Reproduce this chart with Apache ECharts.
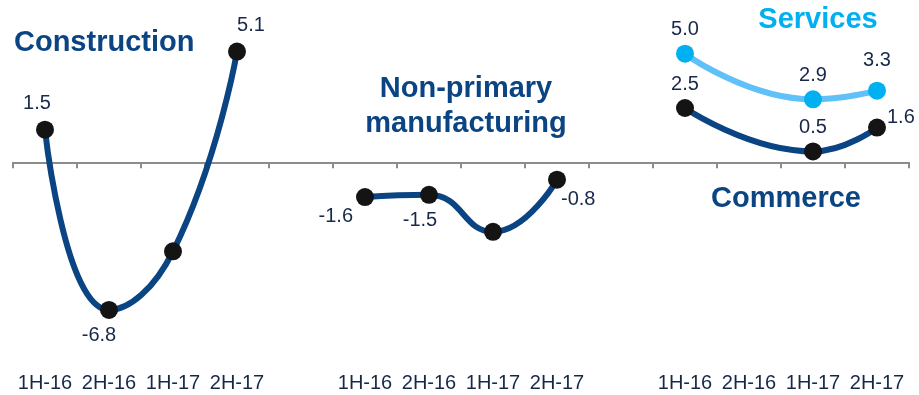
<!DOCTYPE html>
<html>
<head>
<meta charset="utf-8">
<script src="https://cdn.jsdelivr.net/npm/echarts@6/dist/echarts.min.js"></script>
<style>
  html, body { margin: 0; padding: 0; background: #ffffff; }
  #chart { width: 919px; height: 395px; }
</style>
</head>
<body>
<div id="chart"></div>
<script>
// Half-year periods, repeated for each of the three sector panels (one empty slot between panels)
const periods = ['1H-16', '2H-16', '1H-17', '2H-17'];
const tickLabels = [...periods, '', ...periods, '', ...periods];

// Growth values (%), null where a sector has no point
const construction = [1.5, -6.8, -4.1, 5.1, null, null, null, null, null, null, null, null, null, null];
const nonPrimary = [null, null, null, null, null, -1.6, -1.5, -3.2, -0.8, null, null, null, null, null];
const commerce = [null, null, null, null, null, null, null, null, null, null, 2.5, null, 0.5, 1.6];
const services = [null, null, null, null, null, null, null, null, null, null, 5.0, null, 2.9, 3.3];

// Points whose value is not printed
const unlabeled = { construction: [2], nonPrimary: [7] };

const NAVY = '#0a4483';
const LIGHT = '#5fc1f7';
const SKY = '#00b0f0';
const TEXT = '#17284a';
const FONT = '"Liberation Sans", Arial, sans-serif';

const idx = tickLabels.map((_, i) => String(i));

function pointData(values, labelCfg, hidden) {
  return values.map((v, i) => {
    if (v === null) return null;
    const cfg = labelCfg[i] || {};
    return {
      value: v,
      label: Object.assign({ show: !(hidden || []).includes(i) }, cfg)
    };
  });
}

const labelBase = {
  color: TEXT, fontSize: 20, fontFamily: FONT,
  formatter: p => p.value.toFixed(1)
};

function lineSeries(name, values, lineColor, dotColor, labelCfg, hidden) {
  return {
    name, type: 'line', smooth: 0.5, connectNulls: true,
    data: pointData(values, labelCfg, hidden),
    symbol: 'circle', symbolSize: 18,
    lineStyle: { color: lineColor, width: 6 },
    itemStyle: { color: dotColor, borderWidth: 0 },
    label: Object.assign({ show: true, position: 'top', distance: 5 }, labelBase),
    z: name === 'Services' ? 3 : 2,
    animation: false
  };
}

const chart = echarts.init(document.getElementById('chart'), null, { renderer: 'canvas' });

chart.setOption({
  backgroundColor: '#ffffff',
  animation: false,
  grid: { left: 13, right: 10, top: 32, height: 304 },
  xAxis: [
    {
      type: 'category', data: idx, boundaryGap: true,
      axisLine: { onZero: true, lineStyle: { color: '#8c8c8c', width: 2 } },
      axisTick: { show: true, alignWithLabel: false, length: 6, lineStyle: { color: '#8c8c8c', width: 2 } },
      axisLabel: { show: false },
      splitLine: { show: false }
    },
    {
      type: 'category', data: idx, boundaryGap: true, position: 'bottom',
      axisLine: { show: false, onZero: false },
      axisTick: { show: false },
      axisLabel: {
        show: true, margin: 37, interval: 0,
        color: TEXT, fontSize: 20, fontFamily: FONT,
        formatter: (v, i) => tickLabels[i]
      },
      splitLine: { show: false }
    }
  ],
  yAxis: { type: 'value', min: -8, max: 6, show: false, splitLine: { show: false } },
  series: [
    lineSeries('Construction', construction, NAVY, '#141414', {
      0: { position: 'top', offset: [-8, -2] },
      1: { position: 'bottom', offset: [-10, 2] },
      3: { position: 'top', offset: [14, -2] }
    }, unlabeled.construction),
    lineSeries('Non-primary manufacturing', nonPrimary, NAVY, '#141414', {
      5: { position: 'left', offset: [2, 19] },
      6: { position: 'bottom', offset: [-9, 2] },
      8: { position: 'right', offset: [-10, 20] }
    }, unlabeled.nonPrimary),
    lineSeries('Commerce', commerce, NAVY, '#141414', {
      10: { position: 'top' },
      12: { position: 'top' },
      13: { position: 'right', offset: [-4, -10] }
    }),
    lineSeries('Services', services, LIGHT, SKY, {
      10: { position: 'top', offset: [0, 0] },
      12: { position: 'top' },
      13: { position: 'top', offset: [0, -6] }
    })
  ],
  graphic: [
    { type: 'text', left: 14, top: 28, style: { text: 'Construction', fill: NAVY, font: 'bold 29px ' + FONT } },
    { type: 'text', x: 466, y: 71, style: { text: 'Non-primary\nmanufacturing', fill: NAVY, font: 'bold 29px ' + FONT, textAlign: 'center', lineHeight: 35 } },
    { type: 'text', x: 818, y: 5, style: { text: 'Services', fill: SKY, font: 'bold 29px ' + FONT, textAlign: 'center' } },
    { type: 'text', x: 786, y: 184, style: { text: 'Commerce', fill: NAVY, font: 'bold 29px ' + FONT, textAlign: 'center' } }
  ]
});
</script>
</body>
</html>
